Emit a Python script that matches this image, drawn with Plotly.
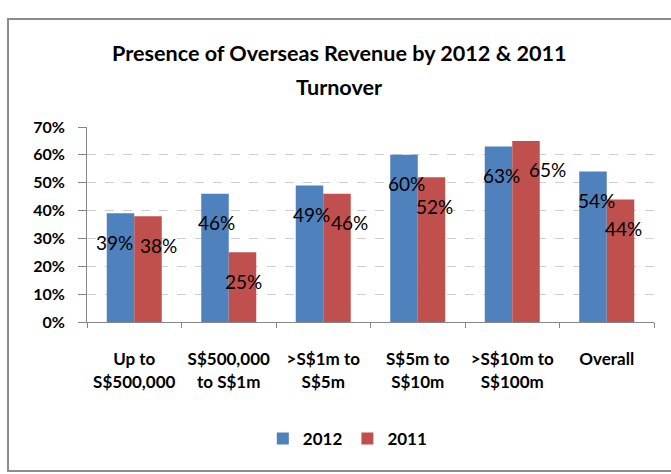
import plotly.graph_objects as go

categories = ["Up to<br>S$500,000", "S$500,000<br>to S$1m", ">S$1m to<br>S$5m",
              "S$5m to<br>S$10m", ">S$10m to<br>S$100m", "Overall"]
values_2012 = [39, 46, 49, 60, 63, 54]
values_2011 = [38, 25, 46, 52, 65, 44]
title_lines = ["Presence of Overseas Revenue by 2012 & 2011", "Turnover"]

BLUE = "#4F81BD"
RED = "#C0504D"
FONT = "Lato"

# small manual nudges of the data labels (px), as in the original chart
nudge_2012 = [-6, 1, 2, 2, 3, 3]
nudge_2011 = [10, 1, 12, 3, 21, 3]

fig = go.Figure()
fig.add_trace(go.Bar(x=categories, y=values_2012, name="2012", marker_color=BLUE,
                     marker_line_width=0))
fig.add_trace(go.Bar(x=categories, y=values_2011, name="2011", marker_color=RED,
                     marker_line_width=0))

annotations = []
half = 13.75
for cat, v, n in zip(categories, values_2012, nudge_2012):
    annotations.append(dict(x=cat, y=v, text=f"{v}%", showarrow=False, xshift=-half + n,
                            yshift=-29, font=dict(family=FONT, size=19, color="black")))
for cat, v, n in zip(categories, values_2011, nudge_2011):
    annotations.append(dict(x=cat, y=v, text=f"{v}%", showarrow=False, xshift=half + n,
                            yshift=-29, font=dict(family=FONT, size=19, color="black")))

for line, y in zip(title_lines, [1.382, 1.205]):
    annotations.append(dict(x=0.4453, y=y, xref="paper", yref="paper", text=f"<b>{line}</b>",
                            showarrow=False, xanchor="center", yanchor="middle",
                            font=dict(family=FONT, size=21.6, color="black")))

fig.update_layout(
    width=671, height=474,
    margin=dict(l=87, r=17, t=127, b=152),
    paper_bgcolor="white", plot_bgcolor="white",
    barmode="group", bargap=0.418, bargroupgap=0,
    font=dict(family=FONT, color="black"),
    annotations=annotations,
    showlegend=True,
    legend=dict(orientation="h", x=0.46, xanchor="center", y=-0.6, yanchor="middle",
                font=dict(family=FONT, size=17, weight="bold"), itemwidth=30,
                traceorder="normal"),
    shapes=[dict(type="rect", xref="paper", yref="paper", x0=-0.1393, x1=1.3,
                 y0=-0.764, y1=1.554, line=dict(color="#8c8c8c", width=2))],
)

fig.update_yaxes(range=[0, 70], dtick=10, ticksuffix="%", showgrid=True,
                 gridcolor="#cfcfcf", griddash="dash", gridwidth=1,
                 showline=True, linecolor="#868686", linewidth=1,
                 ticks="outside", ticklen=8, tickcolor="#868686",
                 ticklabelstandoff=10, zeroline=False,
                 tickfont=dict(family=FONT, size=16, weight="bold"))
fig.update_xaxes(showline=True, linecolor="#868686", linewidth=1,
                 ticks="outside", ticklen=5, tickcolor="#868686", tickson="boundaries",
                 ticklabelstandoff=22,
                 tickfont=dict(family=FONT, size=17, weight="bold"))

# drop the default body margin so the figure fills the window exactly
fig.write_html("out.html", config={"displayModeBar": False},
               post_script="document.body.style.margin='0';")
